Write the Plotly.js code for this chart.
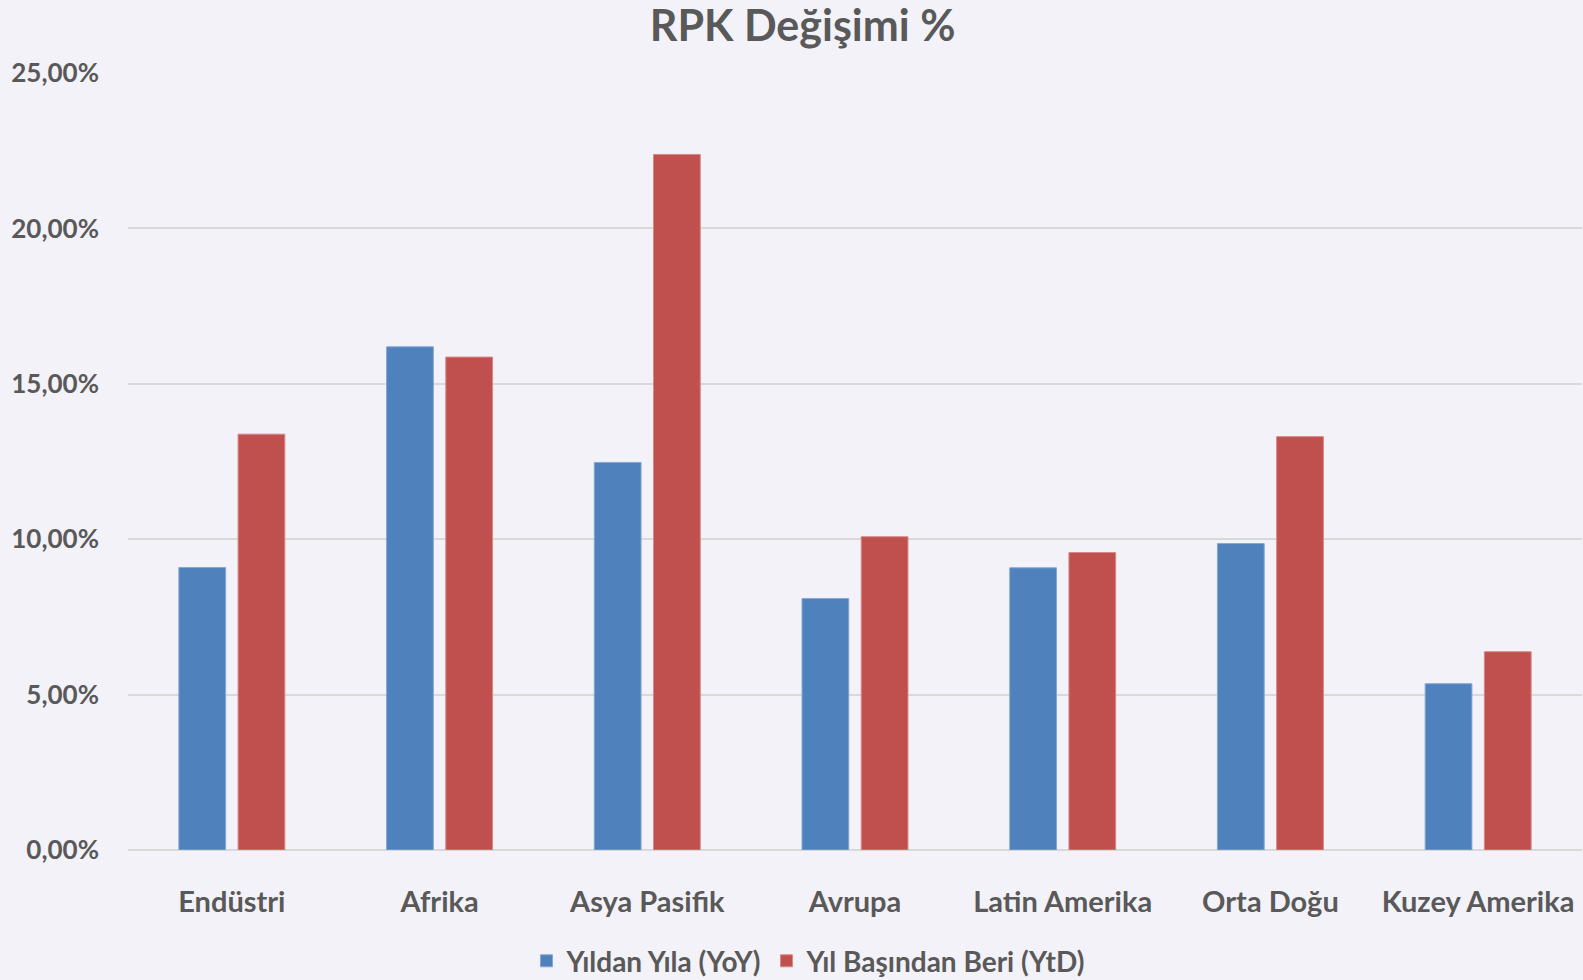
<!DOCTYPE html>
<html>
<head>
<meta charset="utf-8">
<script src="https://cdn.plot.ly/plotly-3.0.1.min.js"></script>
<style>html,body{margin:0;padding:0;background:#F3F2F8;}#chart{width:1583px;height:980px;}</style>
</head>
<body>
<div id="chart"></div>
<script>
const categories = ["Endüstri", "Afrika", "Asya Pasifik", "Avrupa", "Latin Amerika", "Orta Doğu", "Kuzey Amerika"];
const yoyValues = [9.09, 16.19, 12.47, 8.09, 9.08, 9.86, 5.35];
const ytdValues = [13.38, 15.86, 22.38, 10.08, 9.57, 13.30, 6.38];
const seriesNames = ["Yıldan Yıla (YoY)", "Yıl Başından Beri (YtD)"];
const yTickVals = [0, 5, 10, 15, 20, 25];
const yTickText = ["0,00%", "5,00%", "10,00%", "15,00%", "20,00%", "25,00%"];

const font = "Lato, 'Open Sans', sans-serif";
const grey = "#595959";

const traces = [
  {type: "bar", name: seriesNames[0], x: categories, y: yoyValues,
   marker: {color: "#4F81BD", line: {color: "#86A7D3", width: 1}}},
  {type: "bar", name: seriesNames[1], x: categories, y: ytdValues,
   marker: {color: "#C0504D", line: {color: "#D88987", width: 1}}}
];

const layout = {
  width: 1583, height: 980,
  paper_bgcolor: "#F3F2F8", plot_bgcolor: "#F3F2F8",
  font: {family: font, color: grey},
  margin: {l: 128, r: 1, t: 73, b: 130, autoexpand: false},
  title: {text: "<b>RPK Değişimi %</b>", font: {family: font, size: 43, color: grey},
          x: 0.507, xanchor: "center", y: 0.974, yanchor: "middle"},
  barmode: "group", bargap: 0.43, bargroupgap: 0.21,
  showlegend: true,
  legend: {orientation: "h", x: 0.468, xanchor: "center", y: -0.143, yanchor: "middle",
           font: {family: font, size: 28, color: grey, weight: "bold"}, bgcolor: "rgba(0,0,0,0)",
           traceorder: "normal", itemwidth: 30},
  xaxis: {type: "category", tickfont: {family: font, size: 29, color: grey, weight: "bold"},
          showgrid: false, showline: false, ticks: "", ticklabelstandoff: 32},
  yaxis: {range: [0, 25], tickvals: yTickVals, ticktext: yTickText,
          tickfont: {family: font, size: 26, color: grey, weight: "bold"},
          showgrid: true, gridcolor: "#D9D9D9", gridwidth: 2,
          zeroline: true, zerolinecolor: "#D9D9D9", zerolinewidth: 2,
          showline: false, ticks: "", ticklabelstandoff: 28}
};

Plotly.newPlot("chart", traces, layout, {displayModeBar: false, staticPlot: true});
</script>
</body>
</html>
